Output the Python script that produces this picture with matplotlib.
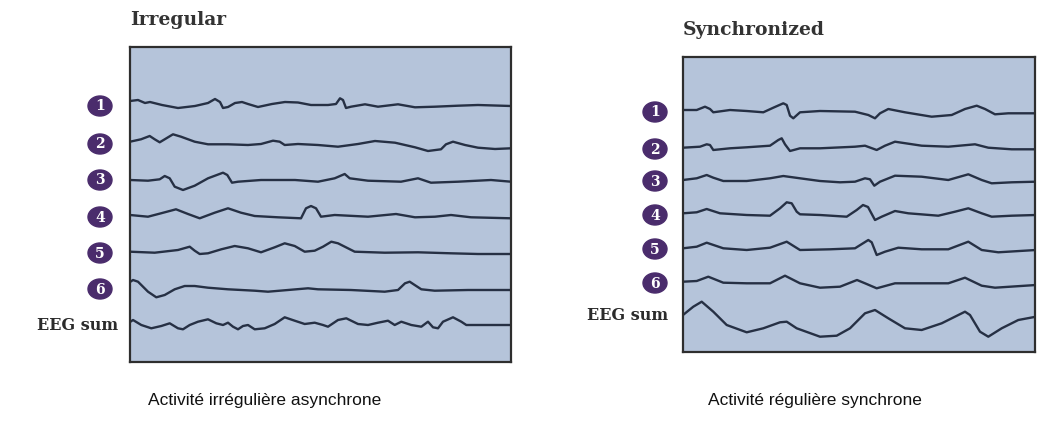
import matplotlib
matplotlib.use("Agg")
import matplotlib.pyplot as plt
from matplotlib.patches import Ellipse

# traces: (x in px from box left, deflection in px, up = +)
irr_1 = [(0, 5), (8, 6), (15, 3), (20, 4), (32, 1), (48, -2), (65, 0), (78, 3), (85, 7), (90, 4),
         (93, -2), (98, -1), (105, 3), (112, 4), (118, 2), (128, -1), (142, 2), (155, 4), (168, 3.5),
         (181, 1), (198, 1), (206, 2), (210, 7.7), (213, 6), (216, -2), (221, -0.7), (235, 1.7),
         (248, -0.7), (268, 1.7), (285, -1.3), (305, -0.7), (328, 0.3), (348, 1), (381, 0)]
irr_2 = [(0, 2.3), (11, 4.7), (19.7, 8), (24.7, 4.7), (29.7, 1.7), (34.7, 4.7), (43, 9.7), (51, 7.3),
         (64.7, 2.3), (78, -0.3), (98, -0.3), (118, -1), (131, 0), (143, 3.3), (149.7, 2.3),
         (154.7, -1), (168, 0), (188, -1), (208, -2.7), (228, 0), (245, 3), (265, 1.3), (285, -3.3),
         (298, -7), (311, -5.3), (316, -0.3), (323, 2.3), (335, -1), (348, -3.7), (365, -5), (381, -4.3)]
irr_3 = [(0, 0), (18, -0.7), (29.7, 0.7), (34.7, 4), (39.7, 1.7), (44.7, -6.7), (53, -10), (64.7, -5.7),
         (78, 1.7), (93, 7.3), (97.3, 5), (102, -2.7), (108, -1.7), (131, 0), (165, 0), (188, -1.7),
         (204.7, 1.7), (214.7, 6), (219.7, 1.7), (238, -0.7), (271, -1.7), (288, 1.7), (301, -2.7),
         (328, -1.7), (361, 0), (381, -1.7)]
irr_4 = [(0, 2), (18, 0.3), (31, 3.7), (46, 7.7), (58, 3), (69.7, -1.3), (84.7, 4.3), (98, 8.7),
         (111, 4.3), (124.7, 1), (148, -0.3), (171, -1.3), (176, 8.7), (181, 11), (186, 8.7),
         (191, 0.3), (204.7, 2), (238, 0.3), (266, 3), (285, -0.3), (305, 0.3), (321, 2), (341, -0.3),
         (381, -1.3)]
irr_5 = [(0, 1.3), (24.7, 0.3), (48, 3), (59.7, 6.3), (64.7, 2.3), (69.7, -1), (78, -0.3), (91.3, 3.7),
         (104.7, 7), (118, 4.7), (131, 0.7), (144.7, 5.7), (154.7, 9.7), (164.7, 7), (174.7, 1.3),
         (184.7, 2.3), (193, 6.3), (201.3, 11.3), (208, 9.7), (224.7, 1.3), (254.7, 0.3), (288, 0.7),
         (321, -0.3), (348, -1), (381, -1)]
irr_6 = [(0, 7), (3, 9), (8, 7.3), (18, -2.7), (26.3, -8.3), (34.7, -6), (44.7, -0.3), (54.7, 3),
         (64.7, 3), (78, 1.3), (98, -0.3), (124.7, -1.7), (138, -2.7), (158, -1), (178, 0.7),
         (188, -0.3), (221, -1), (254.7, -2.7), (268, -1), (275, 5.7), (279.7, 7.3), (284.7, 4),
         (291.3, -0.3), (304.7, -1.7), (338, -1), (381, -1)]
irr_sum = [(0, 3), (3, 5), (11.3, 0), (21.3, -3.3), (31.3, -1), (39.7, 1.7), (48, -3.3), (53, -4.3),
           (59.7, 0), (68, 3.3), (78, 5.7), (86.3, 1.7), (93, 0), (98, 2.3), (103, -1.7), (108, -4.3),
           (113, -1), (118, 0), (124.7, -4.3), (134.7, -3.3), (144.7, 1), (154.7, 7.7), (164.7, 4.3),
           (174.7, 1), (184.7, 2.3), (193, 0), (198, -1.7), (208, 5), (216.3, 6.7), (228, 1), (238, 0),
           (248, 2.3), (258, 4.3), (264.7, 0), (271.3, 3.3), (281.3, 0), (291.3, -1.7), (298, 3.3),
           (303, -2.3), (308, -3.3), (313, 3.3), (323, 7.7), (331.3, 3.3), (336.3, 0), (355, 0), (381, 0)]

syn_1 = [(0, 2), (13.7, 2), (22, 5.3), (27, 3), (30.3, -0.3), (47, 2), (63.7, 1), (80.3, -0.3),
         (90.3, 4.3), (100.3, 8.7), (103.7, 7), (107, -3.7), (110.3, -6.3), (117, -0.3), (137, 1),
         (172, 0.3), (185.3, -3), (192, -6.3), (197, -1.3), (205.3, 3), (222, -0.3), (248.7, -4.7),
         (268.7, -3), (282, 3), (293.7, 6.3), (302, 3), (312, -2.3), (325.3, -1.3), (353, -1.3)]
syn_2 = [(0, 1.3), (17, 2.3), (23.7, 4.7), (27, 4), (30.3, -1), (47, 0.7), (63.7, 1.7), (87, 3.3),
         (95.3, 9), (98.7, 10.7), (102, 4.7), (107, -2), (117, 0.7), (137, 0.7), (172, 2.3), (182, 3.3),
         (193.7, -1), (202, 3.3), (212, 7.3), (238.7, 3.3), (265.3, 2.3), (292, 4.7), (305.3, 1.3),
         (328.7, -0.3), (353, -0.3)]
syn_3 = [(0, 1), (13.7, 2.7), (23.7, 6), (30.3, 3.3), (40.3, 0), (63.7, 0), (87, 2.7), (100.3, 5),
         (117, 2.7), (137, 0), (157, -1.3), (172, -0.7), (182, 2.7), (187, 1.7), (191.3, -4.7),
         (197, -0.7), (212, 5.3), (238.7, 4.3), (265.3, 1), (285.3, 6.7), (298.7, 1), (308.7, -2.3),
         (328.7, -1.3), (353, -0.7)]
syn_4 = [(0, 1.7), (13.7, 2.7), (23.7, 6), (37, 1.7), (63.7, 0), (87, -0.7), (97, 6.7), (103.7, 12.7),
         (108.7, 11.7), (113.7, 3.3), (117, 0.7), (137, 0), (163.7, -1.7), (173.7, 5), (180, 10),
         (185, 8), (192, -5), (198.7, -1.7), (212, 4), (225.3, 1.7), (255.3, -0.7), (272, 3.3),
         (285.3, 6.7), (298.7, 1.7), (308.7, -1.7), (328.7, -0.7), (353, 0)]
syn_5 = [(0, 0.7), (13.7, 2.3), (23.7, 6.3), (40.3, 0.7), (63.7, -1), (87, 1.3), (103.7, 7.3),
         (117, -1), (147, -0.3), (172, 0.7), (185.3, 9), (188.7, 6.7), (193.7, -6), (202, -2.7),
         (215.3, 1.3), (238.7, -0.3), (265.3, -0.3), (285.3, 7.3), (298.7, -1), (315.3, -3.3),
         (353, -1)]
syn_6 = [(0, 1.3), (13.7, 2), (25.3, 6.3), (40.3, 0.3), (63.7, -0.3), (87, -0.3), (102, 7.3),
         (117, -0.3), (137, -4.7), (157, -3.7), (174, 3), (182, -0.3), (193.7, -5.3), (212, -0.3),
         (238.7, -0.3), (265.3, -0.3), (282, 5.3), (298.7, -2.7), (312, -4.7), (353, -2)]
syn_sum = [(0, 0), (10.3, 8.3), (18.7, 13.3), (30.3, 3.3), (43.7, -10), (63.7, -17.3), (80.3, -13.3),
           (97, -7.3), (103.7, -6.7), (113.7, -13.3), (137, -21.7), (153.7, -20.7), (167, -13.3),
           (177, -3.3), (182, 1.7), (192, 5), (205.3, -3.3), (222, -13.3), (238.7, -15), (258.7, -8.3),
           (282, 3.3), (287, 0), (297, -16.7), (305.3, -21.7), (318.7, -13.3), (335.3, -5), (353, -1.7)]

channel_labels = ["1", "2", "3", "4", "5", "6", "EEG sum"]
panel_titles = ["Irregular", "Synchronized"]
captions = ["Activité irrégulière asynchrone", "Activité régulière synchrone"]

W, H = 1037, 426
box_color = "#b5c4da"
trace_color = "#263044"
dot_color = "#4a2c6c"
serif = ["DejaVu Serif"]

fig = plt.figure(figsize=(W / 100, H / 100), dpi=100)


def panel(x0, x1, y0, y1, traces, baselines, dot_x, sum_right, title_y, title):
    ax = fig.add_axes([x0 / W, 1 - y1 / H, (x1 - x0) / W, (y1 - y0) / H])
    ax.set_facecolor(box_color)
    ax.set_xlim(0, x1 - x0)
    ax.set_ylim(y1, y0)
    ax.set_xticks([])
    ax.set_yticks([])
    for s in ax.spines.values():
        s.set_color("#2e2e2e")
        s.set_linewidth(1.6)
    for tr, base in zip(traces, baselines):
        xs = [p[0] for p in tr]
        ys = [base - p[1] for p in tr]
        ax.plot(xs, ys, color=trace_color, lw=1.7, solid_joinstyle="round",
                solid_capstyle="round")
    # numbered channel dots
    for lab, base in zip(channel_labels[:6], baselines[:6]):
        ax.add_patch(Ellipse((dot_x - x0, base), 24, 20, color=dot_color, clip_on=False))
        ax.text(dot_x - x0, base + 0.5, lab, color="white", fontsize=10, fontweight="bold",
                family=serif, ha="center", va="center", clip_on=False)
    ax.text(sum_right - x0, baselines[6], channel_labels[6], fontsize=11.5, fontweight="bold",
            family=serif, color="#2b2b2b", ha="right", va="center", clip_on=False)
    ax.text(0, title_y, title, fontsize=13.5, fontweight="bold", family=serif, color="#333333",
            ha="left", va="center", clip_on=False)
    return ax


panel(130, 511, 47, 362, [irr_1, irr_2, irr_3, irr_4, irr_5, irr_6, irr_sum],
      [106, 144, 180, 217, 253, 289, 325], 100, 118, 20, panel_titles[0])
panel(683, 1035, 57, 352, [syn_1, syn_2, syn_3, syn_4, syn_5, syn_6, syn_sum],
      [112, 149, 181, 215, 249, 283, 315], 655, 668, 30, panel_titles[1])

fig.text(265 / W, 1 - 400 / H, captions[0], fontsize=12.5, family="Liberation Sans",
         ha="center", va="center", color="#111111")
fig.text(815 / W, 1 - 400 / H, captions[1], fontsize=12.5, family="Liberation Sans",
         ha="center", va="center", color="#111111")

fig.savefig("out.png", dpi=100)
